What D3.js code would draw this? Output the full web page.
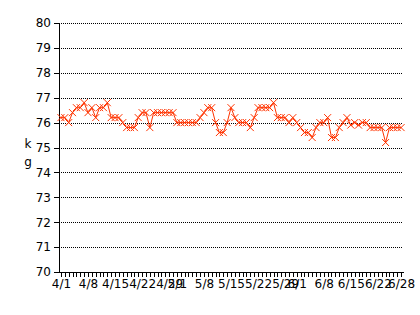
<!DOCTYPE html>
<html>
<head>
<meta charset="utf-8">
<script src="https://cdn.jsdelivr.net/npm/d3@7"></script>
<style>
  body { margin: 0; background: #fff; }
  svg text { font-family: "DejaVu Sans", sans-serif; font-size: 12px; fill: #000; }
</style>
</head>
<body>
<svg id="lienzo" width="420" height="315"></svg>
<script>
// days on the x axis
const dates = [
  "4/1","4/2","4/3","4/4","4/5","4/6","4/7","4/8","4/9","4/10",
  "4/11","4/12","4/13","4/14","4/15","4/16","4/17","4/18","4/19","4/20",
  "4/21","4/22","4/23","4/24","4/25","4/26","4/27","4/28","4/29","4/30",
  "5/1","5/2","5/3","5/4","5/5","5/6","5/7","5/8","5/9","5/10",
  "5/11","5/12","5/13","5/14","5/15","5/16","5/17","5/18","5/19","5/20",
  "5/21","5/22","5/23","5/24","5/25","5/26","5/27","5/28","5/29","5/30",
  "5/31","6/1","6/2","6/3","6/4","6/5","6/6","6/7","6/8","6/9",
  "6/10","6/11","6/12","6/13","6/14","6/15","6/16","6/17","6/18","6/19",
  "6/20","6/21","6/22","6/23","6/24","6/25","6/26","6/27","6/28"
];

// weight in kg, one per day
const weights = [
  76.2, 76.2, 76.0, 76.4, 76.6, 76.6, 76.8, 76.4, 76.6, 76.2,
  76.6, 76.6, 76.8, 76.2, 76.2, 76.2, 76.0, 75.8, 75.8, 75.8,
  76.2, 76.4, 76.4, 75.8, 76.4, 76.4, 76.4, 76.4, 76.4, 76.4,
  76.0, 76.0, 76.0, 76.0, 76.0, 76.0, 76.2, 76.4, 76.6, 76.6,
  76.0, 75.6, 75.6, 76.0, 76.6, 76.2, 76.0, 76.0, 76.0, 75.8,
  76.2, 76.6, 76.6, 76.6, 76.6, 76.8, 76.2, 76.2, 76.2, 76.0,
  76.2, 76.0, 75.8, 75.6, 75.6, 75.4, 75.8, 76.0, 76.0, 76.2,
  75.4, 75.4, 75.8, 76.0, 76.2, 75.9, 76.0, 75.9, 76.0, 76.0,
  75.8, 75.8, 75.8, 75.8, 75.2, 75.8, 75.8, 75.8, 75.8
];

// labelled days and y ticks
const xLabels = ["4/1","4/8","4/15","4/22","4/29","5/1","5/8","5/15","5/22","5/29","6/1","6/8","6/15","6/22","6/28"];
const yTicks = [70, 71, 72, 73, 74, 75, 76, 77, 78, 79, 80];
const unitLabel = ["k", "g"];

const plotLeft = 59, plotRight = 403, plotTop = 23, plotBottom = 272;
const color = "#ff3300";

const svg = d3.select("#lienzo");

const x = d3.scalePoint()
  .domain(dates)
  .range([plotLeft, plotRight])
  .padding(0.5);

const y = d3.scaleLinear()
  .domain([70, 80])
  .range([plotBottom, plotTop]);

// dotted grid
svg.append("g")
  .selectAll("line")
  .data(yTicks.filter(d => d > 70))
  .enter()
  .append("line")
  .attr("x1", plotLeft)
  .attr("x2", plotRight)
  .attr("y1", d => Math.round(y(d)) + 0.5)
  .attr("y2", d => Math.round(y(d)) + 0.5)
  .attr("stroke", "#000")
  .attr("stroke-dasharray", "1,1");

// axes
const xAxis = d3.axisBottom(x)
  .tickValues(dates)
  .tickSize(5)
  .tickSizeOuter(0)
  .tickPadding(2)
  .tickFormat(d => xLabels.includes(d) ? d : "");

const yAxis = d3.axisLeft(y)
  .tickValues(yTicks)
  .tickSize(5)
  .tickSizeOuter(0)
  .tickPadding(3);

svg.append("g")
  .attr("transform", "translate(0," + plotBottom + ")")
  .call(xAxis);

svg.append("g")
  .attr("transform", "translate(" + plotLeft + ",0)")
  .call(yAxis);

svg.selectAll(".domain, .tick line")
  .attr("stroke", "#000")
  .attr("shape-rendering", "crispEdges");
svg.selectAll(".tick text")
  .attr("font-family", "DejaVu Sans, sans-serif")
  .attr("font-size", 12)
  .attr("fill", "#000");

// unit label (vertical)
svg.append("g")
  .selectAll("text")
  .data(unitLabel)
  .enter()
  .append("text")
  .attr("x", 28)
  .attr("y", (d, i) => 148 + i * 18)
  .attr("text-anchor", "middle")
  .text(d => d);

// line + cross markers
const line = d3.line()
  .x((d, i) => x(dates[i]))
  .y(d => y(d));

svg.append("path")
  .datum(weights)
  .attr("d", line)
  .attr("fill", "none")
  .attr("stroke", color)
  .attr("stroke-width", 1);

svg.append("g")
  .selectAll("path")
  .data(weights)
  .enter()
  .append("path")
  .attr("transform", (d, i) => "translate(" + x(dates[i]) + "," + y(d) + ")")
  .attr("d", "M-3.5,-3.5L3.5,3.5M-3.5,3.5L3.5,-3.5")
  .attr("fill", "none")
  .attr("stroke", color)
  .attr("stroke-width", 1);
</script>
</body>
</html>
